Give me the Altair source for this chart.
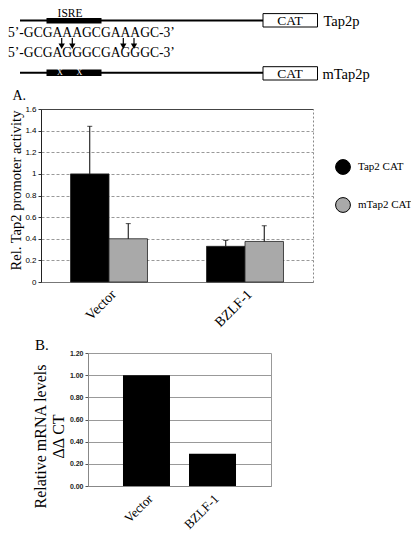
import altair as alt
import pandas as pd

# ---------------- data ----------------
groups = ["Vector", "BZLF-1"]
constructs = ["Tap2 CAT", "mTap2 CAT"]
tap2_activity = [1.00, 0.33]
tap2_error = [0.44, 0.055]
mtap2_activity = [0.40, 0.375]
mtap2_error = [0.14, 0.145]
activity_ticks = [0, 0.2, 0.4, 0.6, 0.8, 1.0, 1.2, 1.4, 1.6]

mrna_groups = ["Vector", "BZLF-1"]
mrna_levels = [1.00, 0.29]
mrna_ticks = [0, 0.2, 0.4, 0.6, 0.8, 1.0, 1.2]

seq_wild = "5\u2019-GCGAAAGCGAAAGC-3\u2019"
seq_mut = "5\u2019-GCGAGGGCGAGGGC-3\u2019"
promoters = ["Tap2p", "mTap2p"]
reporter = "CAT"
element = "ISRE"
panel_labels = ["A.", "B."]

# ---------------- layout (page pixels) ----------------
W, H, M = 403, 525, 8
SERIF = "Liberation Serif"
SANS = "Liberation Sans"
px = alt.Scale(domain=[M, M + W], range=[0, W])
py = alt.Scale(domain=[M, M + H], range=[0, H])

def X(f="x"):
    return alt.X(f"{f}:Q", scale=px, axis=None)

def Y(f="y"):
    return alt.Y(f"{f}:Q", scale=py, axis=None)

backbone = pd.DataFrame({"x": [20, 20], "x2": [263, 263], "y": [20.4, 72.7]})
isre = pd.DataFrame({"x": [46.5, 46.5], "x2": [101.5, 101.5], "y": [18, 69.5], "y2": [23.6, 76]})
cat = pd.DataFrame({"x": [263, 263], "x2": [317.5, 317.5], "y": [13.6, 66.7], "y2": [27, 80]})
arrows = pd.DataFrame({"x": [61.7, 72.3, 123.3, 134], "y": [38] * 4, "y2": [44] * 4, "yh": [46.3] * 4})
centered_text = pd.DataFrame({
    "x": [70, 290, 290],
    "y": [14.1, 20.8, 73.8],
    "t": [element, reporter, reporter],
    "s": [11.5, 13.5, 13.5],
})
left_text = pd.DataFrame({
    "x": [8, 8, 323.5, 322.5, 12.5, 35],
    "y": [32.9, 52.5, 21.5, 74.5, 96, 345],
    "t": [seq_wild, seq_mut, promoters[0], promoters[1], panel_labels[0], panel_labels[1]],
    "s": [13.6, 13.6, 14.5, 14.5, 14, 15],
})
xmarks = pd.DataFrame({"x": [60, 79.3], "y": [73, 73], "t": ["X", "X"]})

schematic = alt.layer(
    alt.Chart(backbone).mark_rule(color="black", strokeWidth=2).encode(x=X(), x2="x2", y=Y()),
    alt.Chart(isre).mark_rect(color="black").encode(x=X(), x2="x2", y=Y(), y2="y2"),
    alt.Chart(cat).mark_rect(fill="white", stroke="black", strokeWidth=1).encode(x=X(), x2="x2", y=Y(), y2="y2"),
    alt.Chart(arrows).mark_rule(color="black", strokeWidth=1.2).encode(x=X(), y=Y(), y2="y2"),
    alt.Chart(arrows).mark_point(shape="triangle-down", filled=True, color="black", size=40, opacity=1).encode(x=X(), y=Y("yh")),
    alt.Chart(centered_text).mark_text(font=SERIF, align="center", baseline="middle", color="black").encode(
        x=X(), y=Y(), text="t:N", size=alt.Size("s:Q", scale=None)),
    alt.Chart(left_text).mark_text(font=SERIF, align="left", baseline="middle", color="black").encode(
        x=X(), y=Y(), text="t:N", size=alt.Size("s:Q", scale=None)),
    alt.Chart(xmarks).mark_text(font=SERIF, align="center", baseline="middle", color="white", fontSize=8).encode(
        x=X(), y=Y(), text="t:N"),
)

# ---------------- panel A ----------------
rowsA = []
for i, g in enumerate(groups):
    rowsA.append({"group": g, "construct": constructs[0], "value": tap2_activity[i],
                  "top": tap2_activity[i] + tap2_error[i]})
    rowsA.append({"group": g, "construct": constructs[1], "value": mtap2_activity[i],
                  "top": mtap2_activity[i] + mtap2_error[i]})
dfA = pd.DataFrame(rowsA)

A_x0, A_x1, A_y0, A_y1 = 41 - M, 313 - M, 282 - M, 109 - M
xA_scale = alt.Scale(domain=groups, range=[A_x0, A_x1], paddingInner=0.434, paddingOuter=0.217)
yA_scale = alt.Scale(domain=[0, 1.6], range=[A_y0, A_y1], nice=False, zero=True)
offA = alt.XOffset("construct:N", sort=constructs, scale=alt.Scale(paddingInner=0, paddingOuter=0))

barsA = alt.Chart(dfA).mark_bar(stroke="#222", strokeWidth=0.8).encode(
    x=alt.X("group:N", sort=groups, scale=xA_scale,
            axis=alt.Axis(orient="bottom", offset=A_y0 - H, title=None, labelAngle=-45,
                          labelFont=SERIF, labelFontSize=14, labelColor="black", ticks=False,
                          domainColor="#777", labelPadding=5)),
    xOffset=offA,
    y=alt.Y("value:Q", scale=yA_scale,
            axis=alt.Axis(orient="left", offset=-A_x0, values=activity_ticks, format="~g",
                          labelFont=SANS, labelFontSize=8, labelColor="black", tickSize=3,
                          tickColor="#333", labelPadding=2, domainColor="#222", grid=True,
                          gridDash=[3, 2], gridColor="#999", title="Rel. Tap2 promoter activity",
                          titleFont=SERIF, titleFontSize=14.5, titleFontWeight="normal",
                          titleColor="black", titlePadding=1, titleY=182)),
    color=alt.Color("construct:N", sort=constructs,
                    scale=alt.Scale(domain=constructs, range=["#000000", "#a9a9a9"]),
                    legend=alt.Legend(orient="none", legendX=327, legendY=151, title=None,
                                      symbolType="circle", symbolSize=220, symbolStrokeColor="black",
                                      symbolStrokeWidth=1, labelFont=SERIF, labelFontSize=11,
                                      labelColor="black", rowPadding=18, labelOffset=7, padding=0)),
)

whiskA = alt.Chart(dfA).mark_rule(color="black", strokeWidth=1).encode(
    x=alt.X("group:N", sort=groups, scale=xA_scale, axis=None),
    xOffset=offA,
    y=alt.Y("value:Q", scale=yA_scale,
            axis=alt.Axis(orient="right", offset=A_x1 - W, labels=False, ticks=False, grid=False,
                          title=None, domainColor="#888", domainDash=[2, 2])),
    y2="top:Q",
)

capsA = alt.Chart(dfA).mark_tick(orient="horizontal", size=5, thickness=1, color="black").encode(
    x=alt.X("group:N", sort=groups, scale=xA_scale,
            axis=alt.Axis(orient="top", offset=-A_y1, labels=False, ticks=False, title=None,
                          domainColor="#444")),
    xOffset=offA,
    y=alt.Y("top:Q", scale=yA_scale, axis=None),
)

panelA = alt.layer(barsA, whiskA, capsA).resolve_axis(x="independent", y="independent")

# ---------------- panel B ----------------
dfB = pd.DataFrame({"group": mrna_groups, "level": mrna_levels})
B_x0, B_x1, B_y0, B_y1 = 88 - M, 271 - M, 486 - M, 353 - M
xB_scale = alt.Scale(domain=mrna_groups, range=[B_x0, B_x1], paddingInner=0.288, paddingOuter=0.53)
yB_scale = alt.Scale(domain=[0, 1.2], range=[B_y0, B_y1], nice=False, zero=True)

barsB = alt.Chart(dfB).mark_bar(color="black").encode(
    x=alt.X("group:N", sort=mrna_groups, scale=xB_scale,
            axis=alt.Axis(orient="bottom", offset=B_y0 - H, title=None, labelAngle=-45,
                          labelFont=SERIF, labelFontSize=13, labelColor="black", ticks=False,
                          domainColor="#888", labelPadding=6)),
    y=alt.Y("level:Q", scale=yB_scale,
            axis=alt.Axis(orient="left", offset=-B_x0, values=mrna_ticks, format=".2f",
                          labelFont=SANS, labelFontSize=7, labelFontWeight="bold", labelColor="#222",
                          tickSize=3, tickColor="#555", labelPadding=2, domainColor="#888",
                          grid=True, gridColor="#999", title=["Relative mRNA levels", "\u0394\u0394 CT"],
                          titleFont=SERIF, titleFontSize=16, titleFontWeight="normal",
                          titleColor="black", titleLineHeight=18, titlePadding=3, titleY=428)),
)

frameB = alt.Chart(dfB).mark_bar(opacity=0).encode(
    x=alt.X("group:N", sort=mrna_groups, scale=xB_scale, axis=None),
    y=alt.Y("level:Q", scale=yB_scale,
            axis=alt.Axis(orient="right", offset=B_x1 - W, labels=False, ticks=False, grid=False,
                          title=None, domainColor="#999")),
)

panelB = alt.layer(barsB, frameB).resolve_axis(x="independent", y="independent")

chart = alt.layer(schematic, panelA, panelB).resolve_scale(
    x="independent", y="independent", color="independent"
).resolve_axis(x="independent", y="independent").properties(
    width=W, height=H, padding=0, autosize=alt.AutoSizeParams(type="none"), background="white"
).configure_view(stroke=None)

chart.save("out.html", embed_options={"renderer": "svg", "actions": False})
